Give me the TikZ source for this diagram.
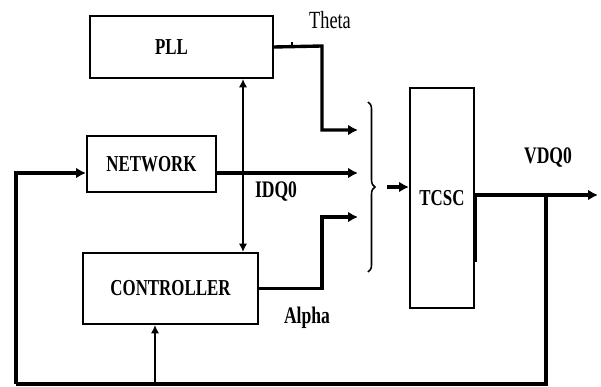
\documentclass[tikz,border=0pt]{standalone}
\usepackage{fontspec}
\setmainfont{Liberation Serif}
\usepackage{tikz}
\usetikzlibrary{calc,arrows.meta}
\usetikzlibrary{decorations.pathreplacing}
\usetikzlibrary{positioning}
\definecolor{bd-line}{HTML}{000000}
\newcommand{\tallfont}[1]{\scalebox{1}[1.35]{#1}}

\begin{document}
\begin{tikzpicture}[x=0.025cm, y=-0.025cm, >={Latex[length=7pt,width=7.5pt]},
    block/.style={draw=bd-line, line width=1.4pt, anchor=north west, inner sep=0pt,
        font=\fontsize{12}{14}\selectfont\bfseries},
    signal/.style={draw=bd-line, line width=2.4pt},
    thinsig/.style={draw=bd-line, line width=1.2pt},
    tag/.style={font=\fontsize{12.5}{14}\selectfont\bfseries}]

    \useasboundingbox (0,0) rectangle (601,387);

    % Blocos principais
    \node[block, minimum width=4.575cm, minimum height=1.55cm] (PLL) at (89,15) {\tallfont{PLL}\hspace*{0.5cm}};
    \node[block, minimum width=3.225cm, minimum height=1.4cm] (NETWORK) at (86,135) {\tallfont{NETWORK}};
    \node[block, minimum width=4.375cm, minimum height=1.775cm] (CONTROLLER) at (82,252) {\tallfont{CONTROLLER}};
    \node[block, minimum width=1.6cm, minimum height=5.5cm] (TCSC) at (409,87) {\raisebox{-0.2cm}{\tallfont{TCSC}}};

    % Pontos auxiliares
    \coordinate (in1) at (358,130);
    \coordinate (in2) at (358,173);
    \coordinate (in3) at (358,217);
    \coordinate (bus) at (243,0);
    \coordinate (merge) at (387,187);
    \coordinate (out) at (598,195);
    \coordinate (tap) at (546,195);
    \coordinate (ret) at (16,384);

    % Sinais para o somador
    \draw[signal, ->] (PLL.east) -- (322,46) |- (in1);
    \draw[bd-line, line width=1pt] (292,46) -- (292,42);
    \draw[signal, ->] (NETWORK.east |- in2) -- (in2);
    \draw[signal, ->] (CONTROLLER.east) -| (322,217) -- (in3);

    % Ligacao PLL <-> CONTROLLER
    \draw[thinsig, <->, >={Latex[length=6pt,width=6pt]}] (PLL.south -| bus) -- (CONTROLLER.north -| bus);

    % Chave e entrada do TCSC
    \draw[bd-line, line width=1.1pt, decorate, decoration={brace, amplitude=5pt}] (368,102) -- (368,272);
    \draw[signal, ->] (merge) -- (TCSC.west |- merge);

    % Saida e realimentacao
    \draw[signal, ->] (TCSC.east |- out) -- (out);
    \draw[bd-line, line width=2.8pt] (TCSC.east |- out) -- ++(0,67);
    \draw[signal] (tap) |- (ret);
    \draw[bd-line, line width=2.6pt, ->] (ret) |- (NETWORK.west |- in2);
    \draw[thinsig, ->, >={Latex[length=6pt,width=6pt]}] (ret -| 155,0) -- (CONTROLLER.south -| 155,0);

    % Rotulos
    \node[font=\fontsize{13}{14}\selectfont] (theta) at (330,20) {\tallfont{Theta}};
    \node[tag] (idq) at (276,192) {\tallfont{IDQ0}};
    \node[tag] (alpha) at (307,318) {\tallfont{Alpha}};
    \node[tag] (vdq) at (548,158) {\tallfont{VDQ0}};

\end{tikzpicture}
\end{document}
